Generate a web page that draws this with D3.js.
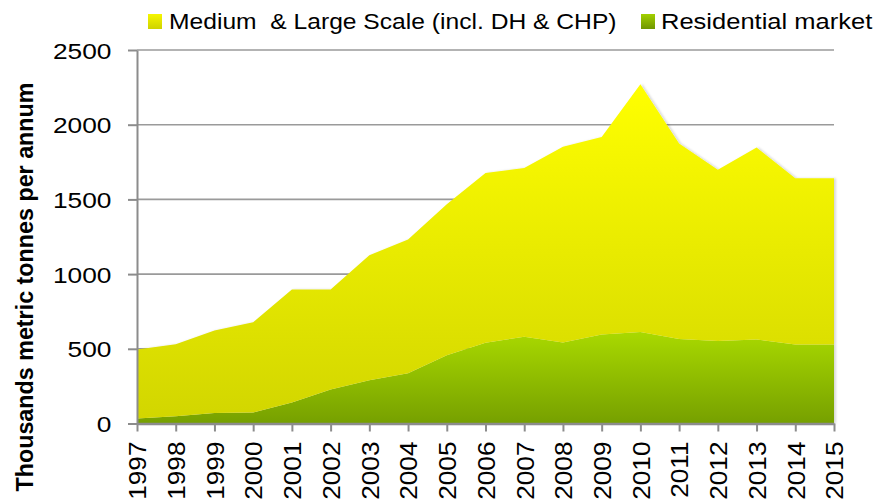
<!DOCTYPE html>
<html>
<head>
<meta charset="utf-8">
<script src="https://cdn.jsdelivr.net/npm/d3@7"></script>
<style>
  html, body { margin: 0; padding: 0; background: #fff; }
  svg { display: block; font-family: "Liberation Sans", Arial, sans-serif; }
</style>
</head>
<body>
<svg id="chart" width="874" height="504"></svg>
<script>
// Wood pellet consumption, thousands of metric tonnes per annum
const years = ["1997","1998","1999","2000","2001","2002","2003","2004","2005","2006",
               "2007","2008","2009","2010","2011","2012","2013","2014","2015"];
const residential = [33, 49, 71, 73, 141, 228, 289, 336, 456, 541,
                     580, 542, 595, 612, 565, 552, 563, 528, 528];
const mediumLarge = [462, 481, 551, 605, 756, 669, 838, 896, 1011, 1135,
                     1131, 1310, 1322, 1659, 1309, 1147, 1285, 1114, 1114];
const seriesNames = ["Residential market", "Medium  & Large Scale (incl. DH & CHP)"];
const yTicks = [0, 500, 1000, 1500, 2000, 2500];
const yTitle = "Thousands metric tonnes per annum";

const rows = years.map((yr, i) => ({ year: yr, res: residential[i], mls: mediumLarge[i] }));

const svg = d3.select("#chart");
const x = d3.scalePoint().domain(years).range([137, 834]);
const y = d3.scaleLinear().domain([0, 2500]).range([423.5, 50]);

const defs = svg.append("defs");
function vGrad(id, top, bottom) {
  const g = defs.append("linearGradient").attr("id", id)
    .attr("x1", 0).attr("y1", 0).attr("x2", 0).attr("y2", 1);
  g.append("stop").attr("offset", "0%").attr("stop-color", top);
  g.append("stop").attr("offset", "100%").attr("stop-color", bottom);
}
vGrad("gYellow", "#ffff00", "#d2d600");
vGrad("gGreen", "#a9d900", "#76a000");
vGrad("gYellowKey", "#f6f600", "#cfd300");
vGrad("gGreenKey", "#a2d000", "#6f9600");

const shadow = defs.append("filter").attr("id", "soft")
  .attr("x", "-5%").attr("y", "-5%").attr("width", "110%").attr("height", "110%");
shadow.append("feDropShadow").attr("dx", 2).attr("dy", 0)
  .attr("stdDeviation", 1.2).attr("flood-color", "#000").attr("flood-opacity", 0.15);

// horizontal gridlines
svg.append("g").selectAll("line")
  .data(yTicks.filter(v => v > 0))
  .join("line")
  .attr("x1", x.range()[0]).attr("x2", x.range()[1])
  .attr("y1", d => y(d)).attr("y2", d => y(d))
  .attr("stroke", "#9a9a9a").attr("stroke-width", 1.6);

// stacked areas
const stack = d3.stack().keys(["res", "mls"]);
const layers = stack(rows);
const area = d3.area()
  .x(d => x(d.data.year))
  .y0(d => y(d[0]))
  .y1(d => y(d[1]));

const fills = { res: "url(#gGreen)", mls: "url(#gYellow)" };
svg.append("g").attr("filter", "url(#soft)")
  .selectAll("path")
  .data(layers)
  .join("path")
  .attr("d", area)
  .attr("fill", d => fills[d.key]);

// y axis
const yAxis = svg.append("g")
  .attr("transform", `translate(${x.range()[0]},0)`)
  .call(d3.axisLeft(y).tickValues(yTicks).tickSize(9).tickSizeOuter(0).tickFormat(d3.format("d")));
yAxis.select(".domain").attr("stroke", "#8c8c8c").attr("stroke-width", 2);
yAxis.selectAll(".tick line").attr("stroke", "#8c8c8c").attr("stroke-width", 2);
yAxis.selectAll(".tick text")
  .attr("x", 0).attr("dy", "0.36em")
  .attr("transform", "translate(-25.5,0) scale(1.17,1)")
  .attr("text-anchor", "end")
  .attr("font-size", 22.5).attr("font-family", "Liberation Sans, Arial, sans-serif")
  .attr("fill", "#000");

// x axis
const xAxis = svg.append("g")
  .attr("transform", `translate(0,${y(0)})`)
  .call(d3.axisBottom(x).tickSize(8).tickSizeOuter(0));
xAxis.select(".domain").attr("stroke", "#8c8c8c").attr("stroke-width", 2.4);
xAxis.selectAll(".tick line").attr("stroke", "#8c8c8c").attr("stroke-width", 2);
xAxis.selectAll(".tick text")
  .attr("x", 0).attr("y", 0).attr("dy", "0.36em")
  .attr("transform", "rotate(-90) translate(-18,0) scale(1.07,1)")
  .attr("text-anchor", "end")
  .attr("font-size", 24.5).attr("font-family", "Liberation Sans, Arial, sans-serif")
  .attr("fill", "#000");

// y axis title
svg.append("text")
  .attr("transform", "translate(33,287) rotate(-90)")
  .attr("text-anchor", "middle")
  .attr("font-size", 23.3).attr("font-weight", "bold")
  .attr("fill", "#000")
  .text(yTitle);

// legend
const legendItems = [
  { name: seriesNames[1], fill: "url(#gYellowKey)", sx: 148, tx: 169, k: 1.12 },
  { name: seriesNames[0], fill: "url(#gGreenKey)", sx: 641, tx: 661, k: 1.16 }
];
const lg = svg.append("g").selectAll("g").data(legendItems).join("g");
lg.append("rect")
  .attr("x", d => d.sx).attr("y", 14).attr("width", 14).attr("height", 15)
  .attr("fill", d => d.fill);
lg.append("text")
  .attr("transform", d => `translate(${d.tx},28.5) scale(${d.k},1)`)
  .attr("font-size", 22).attr("fill", "#000")
  .style("white-space", "pre")
  .attr("xml:space", "preserve")
  .text(d => d.name);
</script>
</body>
</html>
